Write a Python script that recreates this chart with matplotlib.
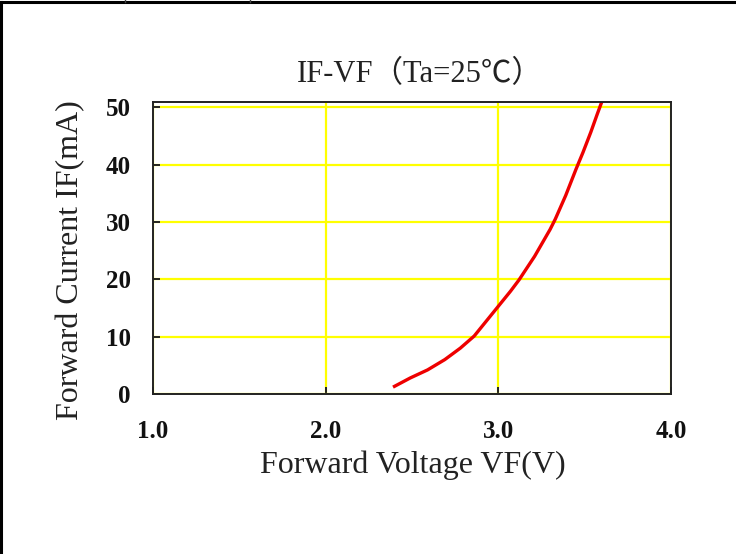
import matplotlib
matplotlib.use("Agg")
import matplotlib.pyplot as plt
from matplotlib.lines import Line2D

# forward voltage (V) / forward current (mA)
vf = [2.39, 2.49, 2.59, 2.69, 2.78, 2.86, 2.93, 3.00, 3.07, 3.12,
      3.21, 3.30, 3.33, 3.39, 3.45, 3.49, 3.535, 3.573, 3.60]
i_f = [1.2, 2.8, 4.2, 6.0, 8.0, 10.1, 12.7, 15.3, 17.9, 19.9,
       24.0, 28.7, 30.5, 34.6, 39.2, 42.1, 45.6, 48.8, 51.0]

x_ticks = [1.0, 2.0, 3.0, 4.0]
x_labels = ["1.0", "2.0", "3.0", "4.0"]
y_ticks = [0, 10, 20, 30, 40, 50]
y_labels = ["0", "10", "20", "30", "40", "50"]

title = "IF-VF\uff08Ta=25\u2103\uff09"
xlab = "Forward Voltage VF(V)"
ylab = "Forward Current IF(mA)"

serif = ["Liberation Serif", "Noto Sans CJK SC", "DejaVu Serif"]

fig = plt.figure(figsize=(7.36, 5.54), dpi=100)
fig.patch.set_facecolor("white")
ax = fig.add_axes([0.2079, 0.2888, 0.7038, 0.5271])

ax.plot(vf, i_f, color="#ee0000", lw=2.4, solid_capstyle="butt", clip_on=True)

ax.set_xlim(1.0, 4.0)
ax.set_ylim(0, 50.9)
ax.set_xticks(x_ticks)
ax.set_xticklabels(x_labels)
ax.set_yticks(y_ticks)
ax.set_yticklabels(y_labels)
ax.grid(True, color="#ffff00", lw=1.6)
ax.set_axisbelow(True)

for s in ax.spines.values():
    s.set_color("#222222")
    s.set_linewidth(1.4)

ax.tick_params(direction="in", length=5, width=1.4, color="#222222")
ax.tick_params(axis="x", pad=19)
ax.tick_params(axis="y", pad=16)
for t in ax.get_xticklabels() + ax.get_yticklabels():
    t.set_fontfamily(serif)
    t.set_fontweight("bold")
    t.set_fontsize(18)
    t.set_color("#111111")

ax.set_xlabel(xlab, family=serif, fontsize=23, color="#222222")
ax.xaxis.set_label_coords(0.502, -0.195)
ax.set_ylabel(ylab, family=serif, fontsize=23, color="#222222")
ax.yaxis.set_label_coords(-0.13, 0.459)

fig.text(0.571, 0.866, title, family=serif, fontsize=22, color="#222222",
         ha="center", va="center")

# outer frame pieces (top and left border)
fig.add_artist(Line2D([0, 1], [0.9955, 0.9955], transform=fig.transFigure,
                      color="black", lw=2.2))
fig.add_artist(Line2D([0.002, 0.002], [0, 0.996], transform=fig.transFigure,
                      color="black", lw=2.2))
for xp in [0.170, 0.340]:
    fig.add_artist(Line2D([xp, xp], [0.996, 1.0], transform=fig.transFigure,
                          color="#444444", lw=1))

fig.savefig("out.png", dpi=100, facecolor="white")
